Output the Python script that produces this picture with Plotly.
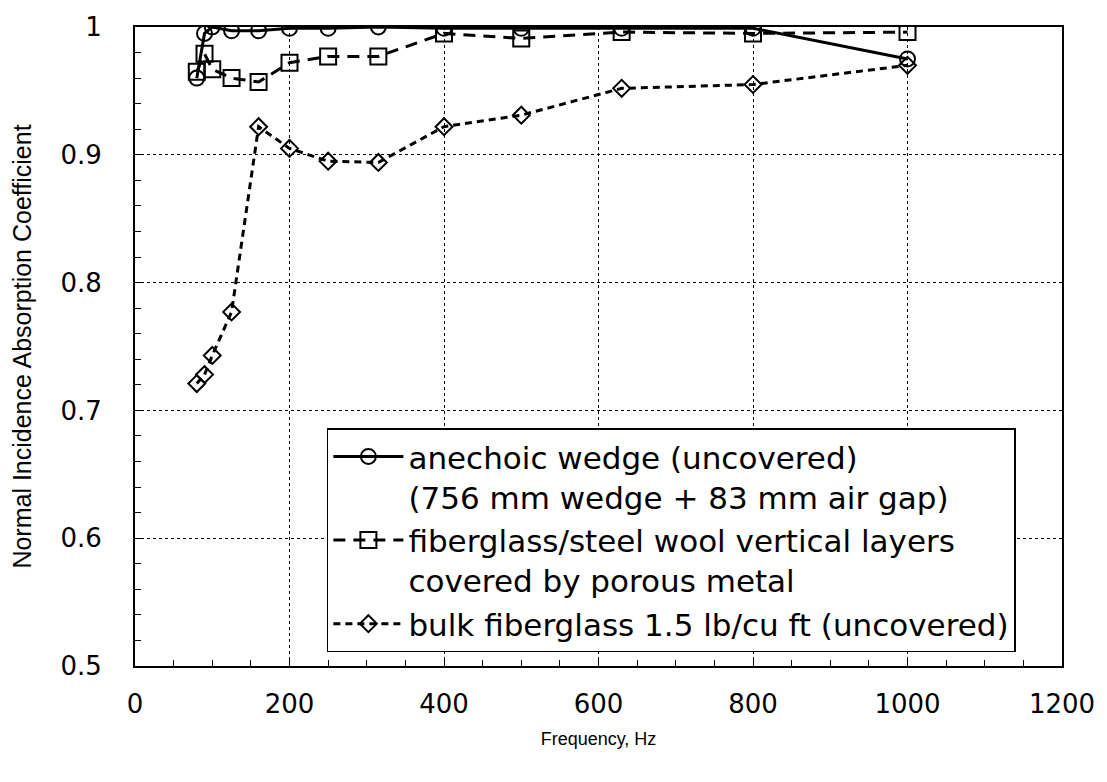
import plotly.graph_objects as go

# Frequencies (Hz)
freq = [80, 90, 100, 125, 160, 200, 250, 315, 400, 500, 630, 800, 1000]

# Normal incidence absorption coefficients
wedge = [0.960, 0.995, 1.000, 0.997, 0.997, 0.999, 0.999, 1.000, 0.999, 0.999, 0.999, 0.999, 0.975]
fiber_steel = [0.965, 0.979, 0.967, 0.960, 0.957, 0.972, 0.977, 0.977, 0.995, 0.991, 0.996, 0.995, 0.996]
bulk_fiber = [0.721, 0.728, 0.743, 0.777, 0.922, 0.905, 0.895, 0.894, 0.922, 0.931, 0.952, 0.955, 0.970]

names = [
    "anechoic wedge (uncovered)<br>(756 mm wedge + 83 mm air gap)",
    "fiberglass/steel wool vertical layers<br>covered by porous metal",
    "bulk fiberglass 1.5 lb/cu ft (uncovered)",
]

x_ticks = [0, 200, 400, 600, 800, 1000, 1200]
y_ticks = [0.5, 0.6, 0.7, 0.8, 0.9, 1.0]
y_tick_text = ["0.5", "0.6", "0.7", "0.8", "0.9", "1"]

fig = go.Figure()
fig.add_trace(go.Scatter(
    x=freq, y=wedge, name=names[0], mode="lines+markers",
    line=dict(color="black", width=3),
    marker=dict(symbol="circle-open", size=15, color="black", line=dict(width=2)),
))
fig.add_trace(go.Scatter(
    x=freq, y=fiber_steel, name=names[1], mode="lines+markers",
    line=dict(color="black", width=3, dash="12px,8px"),
    marker=dict(symbol="square-open", size=16, color="black", line=dict(width=2)),
))
fig.add_trace(go.Scatter(
    x=freq, y=bulk_fiber, name=names[2], mode="lines+markers",
    line=dict(color="black", width=3, dash="7px,5px"),
    marker=dict(symbol="diamond-open", size=13, color="black", line=dict(width=2)),
))

tick_font = dict(family="DejaVu Sans", size=26, color="black")

fig.update_layout(
    width=1107, height=782,
    margin=dict(l=135, r=45, t=16, b=116),
    paper_bgcolor="white", plot_bgcolor="white",
    showlegend=True,
    legend=dict(
        x=0.207, y=0.372, xanchor="left", yanchor="top",
        bgcolor="white", bordercolor="black", borderwidth=1.5,
        font=dict(family="DejaVu Sans", size=31, color="black"),
        valign="top", tracegroupgap=4, itemwidth=70,
    ),
    xaxis=dict(
        range=[0, 1200], tickvals=x_ticks, ticktext=[str(v) for v in x_ticks],
        showline=True, linecolor="black", linewidth=2, mirror=True,
        ticks="inside", ticklen=9, tickcolor="black", tickwidth=1,
        minor=dict(dtick=50, ticks="inside", ticklen=6, tickcolor="black", showgrid=False),
        showgrid=True, gridcolor="black", griddash="dot", gridwidth=1,
        zeroline=False, tickfont=tick_font, ticklabelstandoff=14,
        title=dict(text="Frequency, Hz",
                   font=dict(family="Liberation Sans", size=18, color="black"), standoff=14),
    ),
    yaxis=dict(
        range=[0.5, 1.0], tickvals=y_ticks, ticktext=y_tick_text,
        showline=True, linecolor="black", linewidth=2, mirror=True,
        ticks="inside", ticklen=9, tickcolor="black", tickwidth=1,
        minor=dict(dtick=0.02, ticks="inside", ticklen=6, tickcolor="black", showgrid=False),
        showgrid=True, gridcolor="black", griddash="dot", gridwidth=1,
        zeroline=False, tickfont=tick_font, ticklabelstandoff=26,
        title=dict(text="Normal Incidence Absorption Coefficient",
                   font=dict(family="Liberation Sans", size=25, color="black"), standoff=22),
    ),
)

fig.write_html("out.html")
